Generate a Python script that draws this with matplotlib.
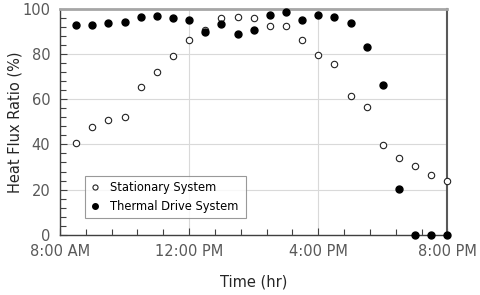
import matplotlib
matplotlib.use("Agg")
import matplotlib.pyplot as plt
from matplotlib.ticker import MultipleLocator, FixedLocator

hours = [8.5, 9.0, 9.5, 10.0, 10.5, 11.0, 11.5, 12.0, 12.5, 13.0, 13.5, 14.0,
         14.5, 15.0, 15.5, 16.0, 16.5, 17.0, 17.5, 18.0, 18.5, 19.0, 19.5, 20.0]
stationary = [40.5, 47.9, 50.7, 52.0, 65.3, 72.2, 79.3, 86.4, 90.5, 95.9, 96.3, 96.0,
              92.6, 92.3, 86.1, 79.6, 75.6, 61.5, 56.6, 39.7, 33.8, 30.3, 26.6, 23.8]
thermal = [92.9, 93.0, 93.9, 94.1, 96.3, 97.0, 96.1, 95.3, 89.7, 93.2, 88.8, 90.6,
           97.2, 98.5, 95.3, 97.2, 96.6, 93.7, 83.0, 66.3, 20.2, 0.0, 0.0, 0.0]
x_ticks = [8, 12, 16, 20]
x_tick_labels = ["8:00 AM", "12:00 PM", "4:00 PM", "8:00 PM"]
y_ticks = [0, 20, 40, 60, 80, 100]

plt.rcParams['font.family'] = ['DejaVu Sans']
fig = plt.figure(figsize=(4.8, 2.95), dpi=100)
ax = fig.add_axes([0.125, 0.2044, 0.807, 0.7651])

ax.plot(hours, stationary, linestyle='none', marker='o', markersize=4.6,
        markerfacecolor='white', markeredgecolor='#222222', markeredgewidth=0.8,
        label='Stationary System', zorder=3, clip_on=False)
ax.plot(hours, thermal, linestyle='none', marker='o', markersize=5.0,
        markerfacecolor='black', markeredgecolor='black',
        label='Thermal Drive System', zorder=4, clip_on=False)

ax.set_xlim(8, 20)
ax.set_ylim(0, 100)
ax.xaxis.set_major_locator(FixedLocator(x_ticks))
ax.set_xticklabels(x_tick_labels)
ax.xaxis.set_minor_locator(MultipleLocator(0.8))
ax.yaxis.set_major_locator(FixedLocator(y_ticks))
ax.yaxis.set_minor_locator(MultipleLocator(4))

ax.grid(True, which='major', color='#d9d9d9', linewidth=0.8, zorder=0)
ax.set_axisbelow(True)

ax.tick_params(axis='both', which='both', direction='in', colors='#404040',
               labelcolor='#595959', labelsize=10.5)
ax.tick_params(axis='both', which='major', length=5, width=0.8, pad=7)
ax.tick_params(axis='both', which='minor', length=4, width=0.8)

for s in ['left', 'bottom']:
    ax.spines[s].set_color('#404040')
    ax.spines[s].set_linewidth(1.0)
ax.spines['top'].set_color('#a6a6a6')
ax.spines['top'].set_linewidth(2.0)
ax.spines['right'].set_color('#595959')
ax.spines['right'].set_linewidth(1.5)

ax.set_xlabel('Time (hr)', fontsize=10.5, color='#262626', labelpad=11)
ax.set_ylabel('Heat Flux Ratio (%)', fontsize=10.5, color='#262626', labelpad=0)

leg = ax.legend(loc='lower left', bbox_to_anchor=(0.065, 0.073, 0.415, 0.159),
                mode='expand', borderaxespad=0, fancybox=False, frameon=True,
                edgecolor='#808080', fontsize=8.3, handlelength=0.8,
                handletextpad=0.9, borderpad=0.45, labelspacing=0.55,
                markerscale=0.8)
leg.get_frame().set_linewidth(0.8)
for t in leg.get_texts():
    t.set_color('#000000')

fig.savefig('out.png', dpi=100)
